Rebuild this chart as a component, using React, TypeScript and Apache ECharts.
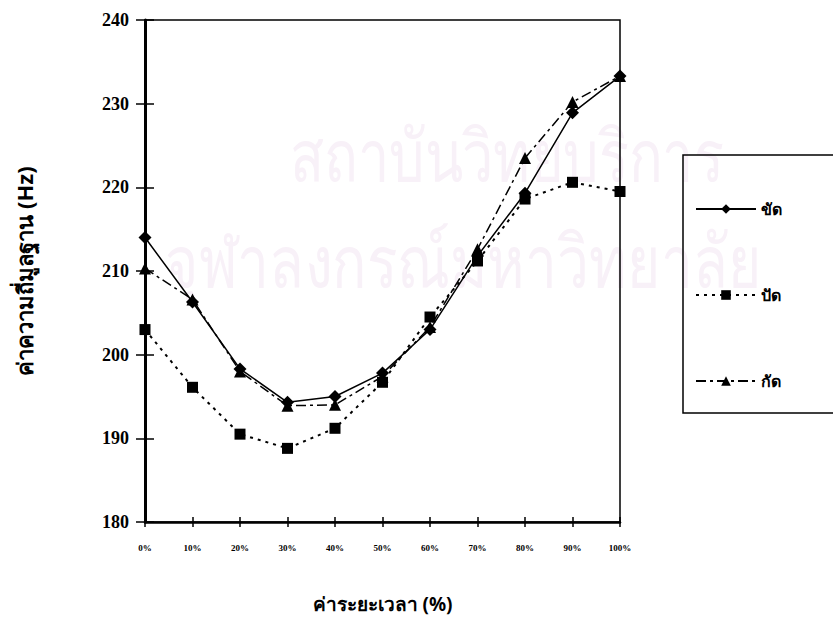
import React, { useEffect, useRef } from "react";
import * as echarts from "echarts";

const categories = ["0%", "10%", "20%", "30%", "40%", "50%", "60%", "70%", "80%", "90%", "100%"];
const seriesNames = ["ขัด", "ปัด", "กัด"];
const khatValues = [214, 206.3, 198.3, 194.3, 195, 197.8, 203, 211.8, 219.3, 228.9, 233.3];
const patValues = [203, 196.1, 190.5, 188.8, 191.2, 196.7, 204.5, 211.2, 218.6, 220.6, 219.5];
const katValues = [210.3, 206.6, 198.0, 193.9, 194.0, 197.4, 203.3, 212.6, 223.5, 230.2, 233.3];
const yTicks = { min: 180, max: 240, interval: 10 };
const yTitle = "ค่าความถี่มูลฐาน (Hz)";
const xTitle = "ค่าระยะเวลา (%)";
const watermarkLines = ["สถาบันวิทยบริการ", "จุฬาลงกรณ์มหาวิทยาลัย"];

const THAI = "'Noto Sans', 'DejaVu Sans', sans-serif";

export default function App() {
  const ref = useRef<HTMLDivElement>(null);
  useEffect(() => {
    if (!ref.current) return;
    const chart = echarts.init(ref.current, null, { renderer: "svg" });
    const grid = { left: 145, right: 213, top: 20, bottom: 119 };
    chart.setOption({
      animation: false,
      backgroundColor: "#ffffff",
      graphic: [
        {
          type: "text",
          x: 290,
          y: 118,
          scaleY: 1.3,
          z: -10,
          silent: true,
          style: { text: watermarkLines[0], fontSize: 56, fill: "#f8f1f8", fontFamily: THAI },
        },
        {
          type: "text",
          x: 165,
          y: 222,
          scaleY: 1.3,
          z: -10,
          silent: true,
          style: { text: watermarkLines[1], fontSize: 57, fill: "#f8f1f8", fontFamily: THAI },
        },
        {
          type: "rect",
          shape: { x: 683, y: 155, width: 200, height: 258 },
          style: { fill: "none", stroke: "#000", lineWidth: 1.5 },
        },
      ],
      grid: { ...grid, show: true, borderColor: "#000", borderWidth: 1.5, backgroundColor: "transparent" },
      legend: {
        orient: "vertical",
        left: 690,
        top: 196,
        itemWidth: 60,
        itemHeight: 12,
        itemGap: 70,
        data: seriesNames,
        textStyle: { fontSize: 16, fontWeight: "bold", color: "#000", fontFamily: THAI },
      },
      xAxis: [
        {
          type: "category",
          data: categories,
          boundaryGap: false,
          position: "bottom",
          name: xTitle,
          nameLocation: "middle",
          nameGap: 72,
          nameTextStyle: { fontSize: 19, fontWeight: "bold", color: "#000", fontFamily: THAI },
          axisLine: { lineStyle: { color: "#000", width: 2.5 } },
          axisTick: { show: true, length: 5, lineStyle: { color: "#000", width: 1.5 } },
          axisLabel: { fontSize: 9, fontWeight: "bold", color: "#000", margin: 21, fontFamily: "'Liberation Serif', serif" },
          splitLine: { show: false },
        },
        {
          type: "category",
          data: categories,
          boundaryGap: false,
          position: "bottom",
          axisLine: { show: false },
          axisTick: { show: true, inside: true, length: 5, lineStyle: { color: "#000", width: 1.5 } },
          axisLabel: { show: false },
          splitLine: { show: false },
        },
      ],
      yAxis: [
        {
          type: "value",
          ...yTicks,
          position: "left",
          name: yTitle,
          nameLocation: "middle",
          nameGap: 110,
          nameRotate: 90,
          nameTextStyle: { fontSize: 22, fontWeight: "bold", color: "#000", fontFamily: THAI },
          axisLine: { show: true, lineStyle: { color: "#000", width: 3 } },
          axisTick: { show: true, length: 9, lineStyle: { color: "#000", width: 1.5 } },
          axisLabel: { fontSize: 18, fontWeight: "bold", color: "#000", margin: 16, fontFamily: "'Liberation Serif', serif" },
          splitLine: { show: false },
        },
        {
          type: "value",
          ...yTicks,
          position: "left",
          axisLine: { show: false },
          axisTick: { show: true, inside: true, length: 9, lineStyle: { color: "#000", width: 1.5 } },
          axisLabel: { show: false },
          splitLine: { show: false },
        },
      ],
      series: [
        {
          name: seriesNames[0],
          type: "line",
          data: khatValues,
          symbol: "diamond",
          symbolSize: 13,
          itemStyle: { color: "#000" },
          lineStyle: { color: "#000", width: 1.5, type: "solid" },
          z: 3,
        },
        {
          name: seriesNames[1],
          type: "line",
          data: patValues,
          symbol: "rect",
          symbolSize: 11,
          itemStyle: { color: "#000" },
          lineStyle: { color: "#000", width: 2, type: [3, 5] },
          z: 2,
        },
        {
          name: seriesNames[2],
          type: "line",
          data: katValues,
          symbol: "triangle",
          symbolSize: 12,
          itemStyle: { color: "#000" },
          lineStyle: { color: "#000", width: 1.5, type: [10, 4, 3, 4] },
          z: 2,
        },
      ],
    });
    return () => chart.dispose();
  }, []);
  return (
    <div
      ref={ref}
      style={{ position: "fixed", left: 0, top: 0, width: 833, height: 641, background: "#fff" }}
    />
  );
}
